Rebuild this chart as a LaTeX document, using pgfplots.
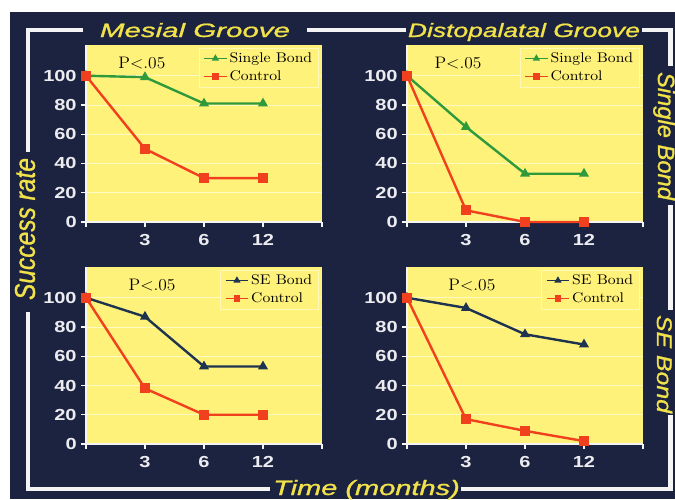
\documentclass[border=0pt]{standalone}
\usepackage{pgfplots}
\pgfplotsset{compat=1.18}
\usepackage{fontspec}
\usepackage{graphicx}
\newfontfamily\arialfont{Liberation Sans}
\newfontfamily\titlefont[ItalicFeatures={FakeBold=1}]{Liberation Sans}

\definecolor{bgnavy}{HTML}{1B2340}
\definecolor{panelyellow}{HTML}{FFF27A}
\definecolor{titleyellow}{HTML}{F2E24A}
\definecolor{framewhite}{HTML}{F4F4F4}
\definecolor{ticktext}{HTML}{ECECF0}
\definecolor{sbgreen}{HTML}{2E9A3C}
\definecolor{ctrlred}{HTML}{F0401E}
\definecolor{senavy}{HTML}{1E3350}

\newcommand\sx[1]{\scalebox{1.25}[1]{#1}}
\newcommand\lx[1]{\scalebox{1.12}[1]{#1}}

\tikzset{pval/.style={font=\fontsize{12.5}{14}\selectfont}}

\pgfplotsset{
  panel/.style={
    scale only axis, width=177pt, height=132.75pt, anchor=south west,
    xmin=0, xmax=4, ymin=0, ymax=121, clip=false,
    axis x line*=bottom, axis y line*=left,
    axis line style={framewhite, line width=1.2pt},
    tick style={framewhite, line width=1pt},
    tick align=outside, major tick length=3.5pt,
    xtick={0,1,2,3,4}, xticklabels={,\sx{3},\sx{6},\sx{12},},
    ytick={0,20,...,100},
    yticklabel={\sx{\pgfmathprintnumber{\tick}}},
    tick label style={font=\arialfont\bfseries\fontsize{12}{14}\selectfont, text=ticktext},
    xticklabel style={yshift=-2pt},
    /pgf/number format/assume math mode=true,
    ymajorgrids, grid style={white!55!panelyellow, line width=0.5pt},
    axis background/.style={fill=panelyellow},
    legend cell align=left,
    legend image post style={line width=1.3pt, mark size=1.9pt},
    legend style={at={(0.985,0.985)}, anchor=north east,
      draw=white!45!panelyellow, fill=panelyellow,
      font=\fontsize{10.5}{12}\selectfont,
      nodes={inner sep=1.5pt}, row sep=1.5pt},
  },
  bond/.style={line width=1.8pt, mark=triangle*, mark size=2.6pt},
  ctrl/.style={ctrlred, line width=1.8pt, mark=square*, mark size=2.8pt},
}

\begin{document}
\begin{tikzpicture}
\begin{scope}[x=0.75pt,y=-0.75pt]
\path[use as bounding box] (0,0) rectangle (675,499);
\fill[white] (0,0) rectangle (675,499);
\fill[bgnavy] (10,12) rectangle (675,499);
\end{scope}

% Mesial Groove, Single Bond
\begin{axis}[panel, at={(64.5pt,-166.5pt)}]
\addplot[bond, sbgreen] coordinates {(0,100) (1,99) (2,81) (3,81)};
\addlegendentry{\lx{Single Bond}}
\addplot[ctrl] coordinates {(0,100) (1,50) (2,30) (3,30)};
\addlegendentry{\lx{Control}}
\node[pval] at (rel axis cs:0.237,0.9) {\scalebox{1.05}[1]{P<.05}};
\end{axis}

% Distopalatal Groove, Single Bond
\begin{axis}[panel, at={(305.25pt,-166.5pt)}]
\addplot[bond, sbgreen] coordinates {(0,100) (1,65) (2,33) (3,33)};
\addlegendentry{\lx{Single Bond}}
\addplot[ctrl] coordinates {(0,100) (1,8) (2,0) (3,0)};
\addlegendentry{\lx{Control}}
\node[pval] at (rel axis cs:0.216,0.9) {\scalebox{1.05}[1]{P<.05}};
\end{axis}

% Mesial Groove, SE Bond
\begin{axis}[panel, at={(64.5pt,-333pt)}]
\addplot[bond, senavy] coordinates {(0,100) (1,87) (2,53) (3,53)};
\addlegendentry{\lx{SE Bond}}
\addplot[ctrl] coordinates {(0,100) (1,38) (2,20) (3,20)};
\addlegendentry{\lx{Control}}
\node[pval] at (rel axis cs:0.28,0.9) {\scalebox{1.05}[1]{P<.05}};
\end{axis}

% Distopalatal Groove, SE Bond
\begin{axis}[panel, at={(305.25pt,-333pt)}]
\addplot[bond, senavy] coordinates {(0,100) (1,93) (2,75) (3,68)};
\addlegendentry{\lx{SE Bond}}
\addplot[ctrl] coordinates {(0,100) (1,17) (2,9) (3,2)};
\addlegendentry{\lx{Control}}
\node[pval] at (rel axis cs:0.275,0.9) {\scalebox{1.05}[1]{P<.05}};
\end{axis}

\begin{scope}[x=0.75pt,y=-0.75pt]
% white frame around the panels
\begin{scope}[framewhite, line width=3.4pt, line join=miter]
\draw (83,30) -- (28,30) -- (28,152);
\draw (28,312) -- (28,489) -- (270,489);
\draw (307,30) -- (406,30);
\draw (642,30) -- (670.5,30) -- (670.5,66);
\draw (670.5,205) -- (670.5,310);
\draw (670.5,415) -- (670.5,489) -- (461,489);
\end{scope}
\begin{scope}[every node/.style={text=titleyellow, inner sep=0pt}]
\node[anchor=base] at (195,37)
  {\resizebox{142.5pt}{10.5pt}{\titlefont\itshape Mesial Groove}};
\node[anchor=base] at (524,37)
  {\resizebox{174pt}{10.5pt}{\titlefont\itshape Distopalatal Groove}};
\node[anchor=base] at (366.5,495)
  {\resizebox{140pt}{11.3pt}{\titlefont\itshape Time (months)}};
\node[rotate=90] at (25,229)
  {\resizebox{106.5pt}{15pt}{\titlefont\itshape Success rate}};
\node[rotate=-90, anchor=base] at (658,136)
  {\resizebox{96pt}{12.75pt}{\titlefont\itshape Single Bond}};
\node[rotate=-90, anchor=base] at (657,364)
  {\resizebox{73.5pt}{11.5pt}{\titlefont\itshape SE Bond}};
\end{scope}
\end{scope}
\end{tikzpicture}
\end{document}
